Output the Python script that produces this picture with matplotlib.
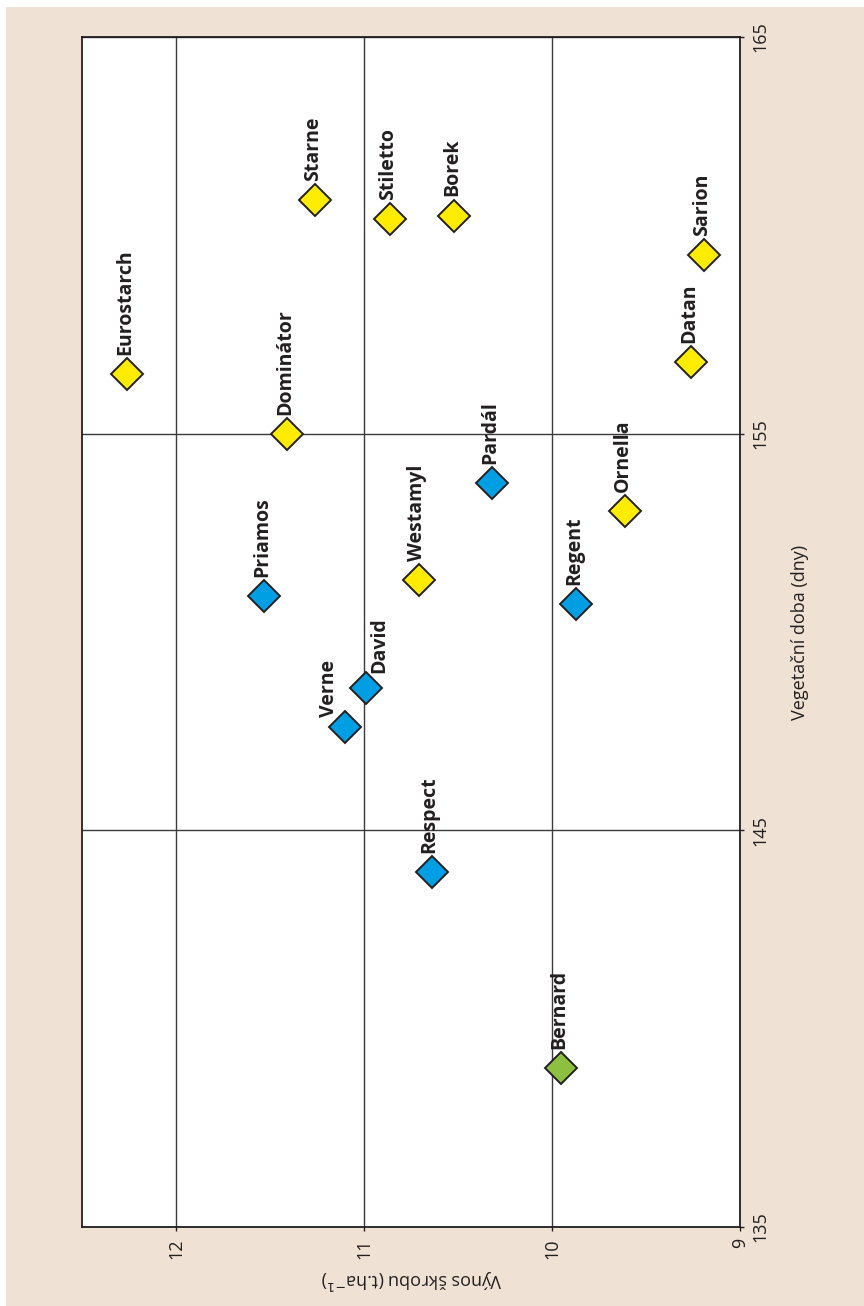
import matplotlib.pyplot as plt
from matplotlib.patches import Rectangle

# data: yield (t/ha) and vegetation period (days)
names = ['Eurostarch', 'Starne', 'Stiletto', 'Borek', 'Sarion', 'Datan',
         'Dominátor', 'Pardál', 'Ornella', 'Priamos', 'Westamyl', 'Regent',
         'David', 'Verne', 'Respect', 'Bernard']
yields = [12.26, 11.26, 10.86, 10.52, 9.19, 9.26,
          11.41, 10.32, 9.61, 11.53, 10.71, 9.87,
          10.99, 11.10, 10.64, 9.95]
days = [156.5, 160.9, 160.4, 160.5, 159.5, 156.8,
        155.0, 153.75, 153.05, 150.9, 151.3, 150.7,
        148.6, 147.6, 143.95, 139.0]
groups = ['y', 'y', 'y', 'y', 'y', 'y',
          'y', 'b', 'y', 'b', 'y', 'b',
          'b', 'b', 'b', 'g']
yield_ticks = [9, 10, 11, 12]
day_ticks = [135, 145, 155, 165]

colors = {'y': '#FFEC00', 'b': '#009FE3', 'g': '#8DC040'}
# label offsets in pixels (rotated layout)
offsets = {'Verne': (-16, 10), 'David': (13, 15)}

plt.rcParams['font.family'] = ['Open Sans', 'DejaVu Sans']
edge = '#231F20'

fig = plt.figure(figsize=(8.64, 13.06), dpi=100)
fig.patches.append(Rectangle((6 / 864, 0), 1, 1 - 7 / 1306, transform=fig.transFigure,
                             facecolor='#EFE2D4', edgecolor='none', zorder=-10))
ax = fig.add_axes([82 / 864, 1 - 1227 / 1306, 658 / 864, 1190 / 1306])
ax.set_facecolor('white')

ax.set_xlim(12.5, 9)
ax.set_ylim(135, 165)
ax.set_xticks(yield_ticks)
ax.set_yticks(day_ticks)
ax.yaxis.tick_right()
ax.grid(True, color='#3a3a3a', lw=1.0, zorder=0)
for s in ax.spines.values():
    s.set_color(edge)
    s.set_linewidth(1.3)
ax.tick_params(direction='out', length=3, width=1, color=edge,
               labelsize=13, labelcolor=edge, pad=5)
for t in ax.get_xticklabels():
    t.set_rotation(90)
for t in ax.get_yticklabels():
    t.set_rotation(90)
    t.set_va('center')
    t.set_ha('left')

for n, x, y, g in zip(names, yields, days, groups):
    ax.plot(x, y, marker='D', ms=16, mfc=colors[g], mec=edge, mew=1.4,
            ls='none', zorder=4, clip_on=False)
    dx, dy = offsets.get(n, (-2, 19))
    ax.annotate(n, (x, y), xytext=(dx, dy), textcoords='offset pixels',
                rotation=90, ha='center', va='bottom', fontsize=14,
                fontweight='bold', color=edge, zorder=3)

fig.text(411 / 864, 1 - 1279 / 1306, r'Výnos škrobu (t.ha$^{-1}$)', rotation=180,
         ha='center', va='center', fontsize=13, color=edge)
fig.text(800 / 864, 1 - 632 / 1306, 'Vegetační doba (dny)', rotation=90,
         ha='center', va='center', fontsize=13, color=edge)

fig.savefig('out.png', dpi=100)
